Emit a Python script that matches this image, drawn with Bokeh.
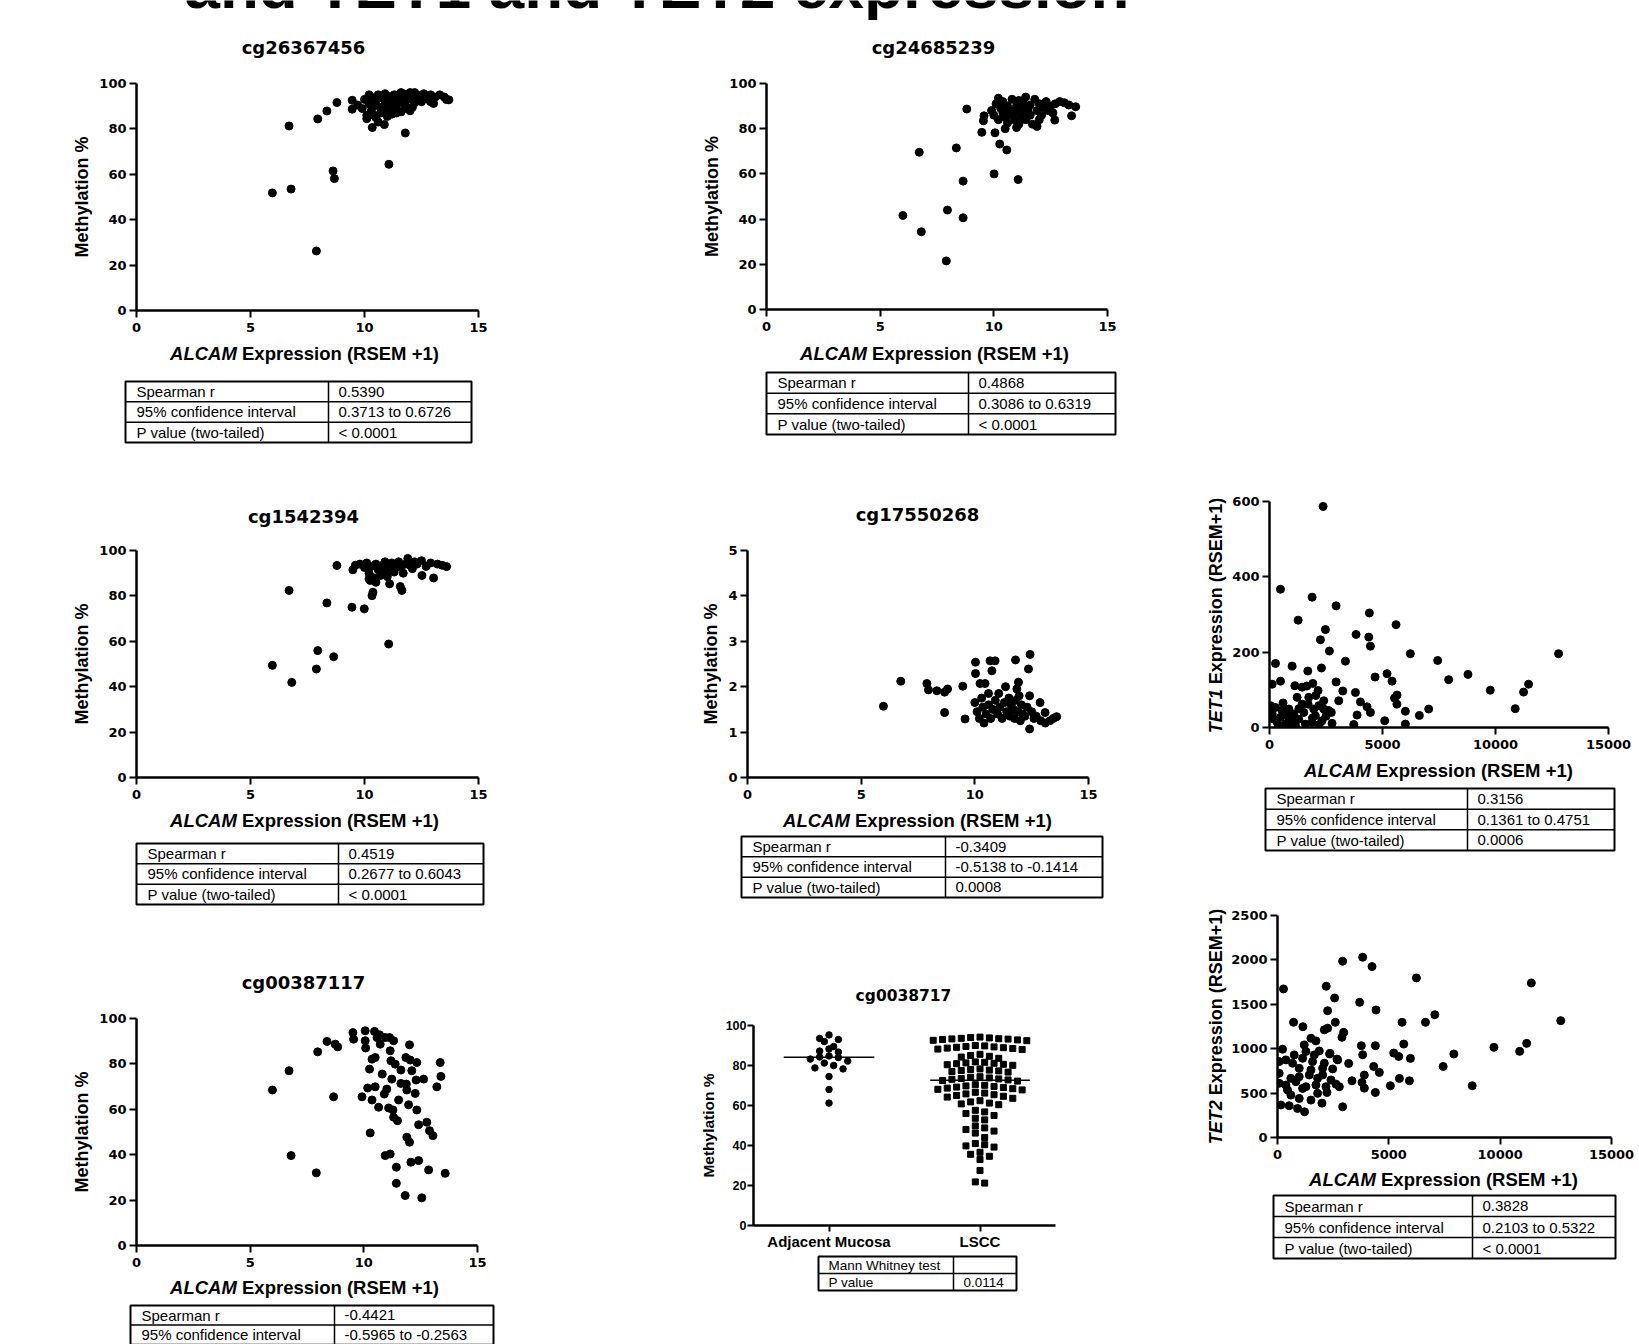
import math
import statistics
from bokeh.plotting import figure
from bokeh.layouts import column, row
from bokeh.models import Range1d, FixedTicker, Spacer, Grid
from bokeh.embed import file_html
from bokeh.resources import INLINE
from bokeh.core.properties import value

# ------------------------------------------------------------------ DATA
header_title = "and TET1 and TET2 expression"
titles = ["cg26367456", "cg24685239", "cg1542394", "cg17550268", "cg00387117", "cg0038717"]
xlabel_italic = "ALCAM"
xlabel_rest = "Expression (RSEM +1)"
ylabel_meth = "Methylation %"
tet_names = ["TET1", "TET2"]
tet_ylabel_rest = "Expression (RSEM+1)"

alcam_ticks = [0, 5, 10, 15]
meth_ticks = [0, 20, 40, 60, 80, 100]
low_meth_ticks = [0, 1, 2, 3, 4, 5]
rsem_ticks = [0, 5000, 10000, 15000]
tet1_ticks = [0, 200, 400, 600]
tet2_ticks = [0, 500, 1000, 1500, 2000, 2500]
categories = ["Adjacent Mucosa", "LSCC"]

stat_labels = ["Spearman r", "95% confidence interval", "P value (two-tailed)"]
tab_a = ["0.5390", "0.3713 to 0.6726", "< 0.0001"]
tab_b = ["0.4868", "0.3086 to 0.6319", "< 0.0001"]
tab_c = ["0.4519", "0.2677 to 0.6043", "< 0.0001"]
tab_d = ["-0.3409", "-0.5138 to -0.1414", "0.0008"]
tab_e = ["-0.4421", "-0.5965 to -0.2563"]
tab_g = ["0.3156", "0.1361 to 0.4751", "0.0006"]
tab_h = ["0.3828", "0.2103 to 0.5322", "< 0.0001"]
mw_labels = ["Mann Whitney test", "P value"]
mw_values = ["", "0.0114"]

# cg26367456
a_x = [5.96, 6.69, 6.78, 7.89, 7.95, 8.35, 8.79, 8.62, 8.68, 9.46, 9.46, 10.34, 10.87, 11.07, 11.79, 13.03, 13.60,
       9.7, 9.9, 10.0, 10.1, 10.2, 10.3, 10.3, 10.4, 10.5, 10.5, 10.6, 10.7, 10.7, 10.8, 10.9, 11.0, 11.0, 11.1,
       11.2, 11.2, 11.3, 11.3, 11.4, 11.5, 11.5, 11.6, 11.7, 11.7, 11.8, 11.9, 12.0, 12.0, 12.1, 12.2, 12.3, 12.4,
       12.5, 12.6, 12.7, 12.8, 12.9, 13.1, 13.3, 13.5, 13.7, 10.1, 10.6, 11.0, 11.8, 12.1, 10.9, 10.2, 11.6, 12.9,
       12.2, 11.4, 10.4]
a_y = [51.8, 81.3, 53.5, 26.2, 84.4, 87.9, 91.6, 61.5, 58.1, 92.6, 88.7, 80.6, 81.9, 64.4, 78.2, 91.2, 92.9,
       90.5, 89.0, 93.0, 86.0, 91.0, 94.0, 88.0, 90.0, 85.0, 92.5, 95.0, 89.5, 87.0, 93.5, 91.0, 88.5, 94.5, 92.0,
       90.0, 86.5, 95.0, 93.0, 89.0, 91.5, 94.0, 87.5, 92.5, 95.5, 90.0, 93.0, 96.0, 88.0, 94.0, 91.5, 95.0, 93.5,
       92.0, 95.5, 94.0, 93.0, 95.0, 94.0, 95.0, 94.0, 92.8, 84.5, 83.0, 85.5, 89.0, 89.5, 95.5, 95.0, 96.0, 92.0,
       96.0, 87.0, 86.0]

# cg24685239
b_x = [6.00, 6.72, 6.81, 7.91, 7.96, 8.35, 8.65, 8.65, 8.81, 9.47, 9.54, 9.57, 10.05, 10.01, 10.26, 10.57, 11.07,
       12.68, 13.42, 13.60,
       9.9, 10.0, 10.1, 10.2, 10.3, 10.4, 10.4, 10.5, 10.6, 10.6, 10.7, 10.8, 10.8, 10.9, 11.0, 11.0, 11.1, 11.1,
       11.2, 11.2, 11.3, 11.3, 11.4, 11.5, 11.6, 11.6, 11.7, 11.8, 11.9, 11.9, 12.0, 12.1, 12.2, 12.3, 12.4, 12.5,
       12.7, 12.9, 13.1, 13.3, 10.2, 11.4, 10.5, 12.0, 12.6, 11.0]
b_y = [41.6, 69.6, 34.4, 21.5, 44.0, 71.5, 56.8, 40.6, 88.7, 78.4, 83.5, 85.7, 78.2, 60.0, 73.2, 70.6, 57.5,
       83.8, 85.7, 89.7,
       88, 86, 91, 84, 89, 87, 92, 85, 90, 82.5, 88, 86, 93, 84, 90, 87.5, 82, 92.5, 85.5, 89, 87, 91, 84, 88.5,
       86, 90.5, 82, 93, 88, 81, 91, 86, 89.5, 92, 88, 90, 91, 92, 91.5, 90.5, 93.5, 94, 80, 84, 87, 80.5]

# cg1542394
c_x = [5.96, 6.69, 6.81, 7.89, 7.95, 8.35, 8.65, 8.79, 9.45, 9.99, 9.49, 10.25, 10.33, 10.37, 11.06, 11.10, 11.57,
       11.64, 12.52, 13.03, 13.60,
       9.6, 9.8, 10.0, 10.1, 10.2, 10.3, 10.4, 10.5, 10.6, 10.7, 10.8, 10.9, 11.0, 11.1, 11.2, 11.3, 11.4, 11.5,
       11.6, 11.8, 11.9, 12.0, 12.2, 12.3, 12.5, 12.7, 12.9, 13.2, 13.4, 10.5, 10.2, 11.0, 11.7, 12.1, 10.8]
c_y = [49.4, 82.4, 41.9, 47.8, 55.9, 76.9, 53.2, 93.4, 75.0, 74.3, 91.5, 86.8, 80.1, 81.6, 58.8, 85.3, 84.1,
       82.4, 89.0, 87.9, 92.9,
       93.5, 94, 92.5, 94.5, 90, 93, 88, 94, 91.5, 89, 93.5, 95, 91, 93, 94.5, 90.5, 92.5, 95, 93, 94, 96.5, 93.5,
       95, 94, 95.5, 93, 94.5, 94, 93.5, 86, 87.5, 88.5, 90, 92, 90.5]

# cg17550268
d_x = [5.98, 6.74, 7.89, 7.96, 8.33, 8.67, 8.67, 8.80, 9.47, 9.57, 10.03, 10.03, 10.23, 10.45, 10.67, 10.89, 10.75,
       11.79, 12.43, 12.36, 11.92, 12.41, 12.41, 12.87, 13.09, 13.60,
       10.0, 10.1, 10.2, 10.3, 10.35, 10.5, 10.6, 10.7, 10.8, 10.9, 11.0, 11.05, 11.1, 11.2, 11.3, 11.35, 11.4,
       11.5, 11.55, 11.6, 11.7, 11.75, 11.8, 11.85, 11.9, 12.0, 12.05, 12.1, 12.2, 12.3, 12.5, 12.6, 12.7, 12.9,
       13.1, 13.3, 13.45, 10.4, 11.95, 10.6]
d_y = [1.57, 2.12, 2.07, 1.93, 1.91, 1.88, 1.43, 1.95, 2.01, 1.29, 2.54, 2.29, 2.07, 2.07, 2.57, 2.57, 2.35,
       2.59, 2.71, 2.39, 2.10, 1.07, 1.80, 1.65, 1.43, 1.34,
       1.65, 1.45, 1.3, 1.75, 1.55, 1.4, 1.6, 1.3, 1.5, 1.7, 1.4, 1.85, 1.55, 1.3, 1.65, 2.0, 1.45, 1.75, 1.35,
       1.6, 1.5, 1.3, 1.7, 1.95, 1.45, 1.25, 1.6, 1.4, 1.35, 1.55, 1.45, 1.3, 1.35, 1.25, 1.2, 1.25, 1.3, 1.2,
       1.8, 1.85]

# cg00387117
e_x = [5.98, 6.71, 6.80, 7.91, 7.97, 8.38, 8.67, 8.74, 8.85, 9.52, 9.55, 9.92, 10.06, 10.06, 10.08, 10.25, 10.28,
       10.36, 10.17, 10.50, 10.50, 10.47, 10.69, 10.65, 10.81, 10.90, 10.94, 11.01, 11.16, 10.94, 11.13, 11.16,
       11.19, 11.23, 11.09, 11.28, 11.31, 11.38, 11.48, 11.43, 11.43, 11.53, 11.63, 11.63, 11.82, 11.85, 11.87,
       11.89, 11.89, 11.97, 12.01, 12.01, 12.07, 12.04, 12.11, 12.26, 12.30, 12.33, 12.33, 12.41, 12.41, 12.55,
       12.63, 12.77, 12.85, 12.89, 13.04, 13.21, 13.36, 13.39, 13.58, 10.72, 11.31, 10.36, 10.58]
e_y = [68.5, 77.0, 39.6, 32.0, 85.3, 89.9, 65.5, 88.7, 87.5, 93.8, 90.9, 65.5, 94.6, 90.2, 87.0, 77.7, 49.6,
       64.1, 69.4, 69.9, 82.8, 94.3, 92.8, 60.9, 75.5, 66.7, 39.6, 68.9, 40.3, 91.6, 91.6, 85.8, 81.4, 73.3,
       60.6, 59.7, 56.5, 79.9, 55.0, 34.5, 27.4, 64.1, 77.3, 71.4, 22.0, 82.8, 71.1, 68.5, 47.7, 62.0, 45.5,
       88.4, 36.7, 81.7, 77.0, 67.0, 72.9, 80.6, 59.7, 53.2, 37.4, 21.0, 73.3, 54.3, 33.3, 50.6, 48.4, 69.9,
       80.6, 74.5, 31.8, 88.7, 90.2, 82.1, 91.6]

# cg0038717 (column scatter)
adj_values = [95.3, 93.5, 93.0, 92.0, 89.5, 88.3, 87.2, 86.7, 84.8, 84.3, 84.0, 83.2, 82.2, 81.2, 80.0, 78.8,
              78.3, 74.5, 68.0, 61.2]
lscc_values = [94.2, 94.0, 93.8, 93.6, 93.4, 93.3, 93.2, 93.0, 92.8, 92.6, 92.4,
               90.0, 89.8, 89.5, 89.3, 89.1, 88.9, 88.7, 88.5, 88.2, 88.0,
               85.6, 85.0, 84.6, 84.2, 83.6,
               81.8, 81.6, 81.3, 81.1, 80.9, 80.6, 80.4, 80.1,
               78.3, 78.0, 77.7, 77.5, 77.3, 77.0, 76.7,
               74.4, 74.1, 73.8, 73.5, 73.3, 73.1, 72.8, 72.5, 72.2,
               70.4, 70.1, 69.8, 69.5, 69.2, 69.0, 68.7, 68.4, 68.1, 67.8,
               66.6, 66.2, 65.8, 65.4, 65.0, 64.6, 64.2, 63.6,
               62.4, 61.8, 61.2, 60.8, 60.4,
               57.6, 56.8, 56.0, 55.0,
               53.6, 52.8,
               49.8, 48.8, 48.0, 47.2, 46.2, 44.0,
               41.0, 40.4, 39.8, 39.2,
               36.6, 35.6, 34.6, 33.0,
               27.5, 21.8, 21.2]

# TET1 vs ALCAM
g_x = [2372, 486, 1886, 2947, 1267, 4420, 5599, 2475, 3831, 4391, 2254, 4465, 2652, 6233, 12790, 3360, 7441, 265,
       1002, 1695, 2299, 5201, 8782, 4671, 5422, 7927, 486, 118, 11464, 1916, 2947, 3242, 9769, 11243, 3802, 5643,
       10874, 7043, 6631, 6012, 5098, 6012, 4023, 4317, 4465, 3875, 3728, 5532, 5636,
       1120, 1443, 2150, 1222, 1708, 2400, 2621, 2030, 265, 560, 119, 856, 1076, 1297, 1589, 340, 706, 1885, 2326,
       2767, 2400, 2180, 3063, 1443, 194, 1002, 30, 1148, 2736, 1517, 1959, 485, 44, 1738,
       400, 800, 1300, 1900, 2500, 600, 2200, 900, 1650, 2050]
g_y = [587, 367, 346, 323, 285, 304, 273, 260, 247, 240, 233, 216, 203, 196, 196, 176, 178, 170, 163, 150, 158,
       143, 141, 134, 123, 127, 123, 115, 115, 117, 121, 97, 99, 94, 93, 86, 50, 49, 32, 43, 18, 9, 68, 55, 40, 33,
       8, 78, 62,
       111, 107, 98, 80, 62, 71, 45, 31, 53, 45, 36, 49, 36, 22, 9, 13, 9, 13, 18, 11, 49, 58, 71, 62, 22, 18, 45,
       5, 40, 40, 49, 27, 58, 80,
       5, 30, 50, 25, 30, 65, 8, 2, 110, 85]

# TET2 vs ALCAM
h_x = [270, 720, 1140, 2190, 2250, 2565, 2595, 2925, 2970, 2895, 3825, 4245, 3690, 4425, 5595, 6240, 6645, 7065,
       11400, 12720, 9720, 10875, 11190, 7920, 7440, 8745, 4395, 5670, 5220, 5970, 5445, 3765, 3825, 4320, 4575,
       3900, 3795, 3900, 4395, 5070, 5475, 5925, 3195, 3345, 2925, 2625, 2670, 2340, 1995, 2220, 1215,
       2102, 2251, 225, 1201, 1726, 1277, 1877, 2358, 375, 1127, 1576, 2102, 2703, 976, 1501, 2027, 2477, 75, 600,
       976, 1426, 1802, 2402, 2778, 75, 375, 826, 1277, 1726, 2177, 600, 976, 1502, 150, 526, 901, 75, 676, 1652,
       450, 1127, 2027, 1802, 1502, 751]
h_y = [1673, 1297, 1248, 1703, 1428, 1571, 1297, 1985, 1184, 1128, 2030, 1925, 1522, 1436, 1297, 1797, 1297, 1383,
       1740, 1316, 1015, 970, 1060, 940, 800, 583, 1034, 1052, 951, 891, 913, 1034, 932, 800, 733, 703, 620, 556,
       507, 583, 665, 639, 834, 639, 346, 601, 883, 940, 387, 507, 289,
       1212, 1231, 994, 1043, 1088, 968, 975, 948, 874, 892, 855, 836, 874, 779, 761, 779, 772, 723, 666, 685, 704,
       666, 648, 572, 610, 591, 629, 572, 591, 572, 478, 440, 421, 366, 358, 327, 855, 836, 930, 535, 553, 704,
       497, 1118, 930]

# ------------------------------------------------------------------ HELPERS
LIB = "Liberation Sans"
DJV = "DejaVu Sans"

ARIAL_BOLD = {' ': .278, '(': .333, ')': .333, '+': .584, '%': .889, 'A': .722, 'C': .722, 'E': .667, 'L': .611,
              'M': .833, 'R': .722, 'S': .667, 'T': .611, 'x': .556, 'p': .611, 'r': .389, 'e': .556, 's': .556,
              'i': .278, 'o': .611, 'n': .611}


def tw(s, fs):
    return sum(ARIAL_BOLD.get(ch, .556) for ch in s) * fs


def W(item):
    # wrap each plot in its own box so sibling plots' frames are not aligned
    return column(item, spacing=0)


def base_fig(w, h, **kw):
    return figure(width=int(w), height=int(h), output_backend="svg", toolbar_location=None, tools="",
                  title=None, **kw)


def kill_grids(p):
    for g in p.select(type=Grid):
        g.visible = False


def text_fig(x0, x1, y0, y1):
    p = base_fig(x1 - x0, y1 - y0, x_range=Range1d(x0, x1), y_range=Range1d(y1, y0),
                 x_axis_location=None, y_axis_location=None, min_border=0)
    p.outline_line_color = None
    kill_grids(p)
    return p


def put_text(p, x, y, txt, fs, font=LIB, style="normal", align="left", baseline="middle", angle=0.0):
    p.text(x=[x], y=[y], text=[txt], text_font=value(font), text_font_style=style,
           text_font_size=f"{fs}px", text_align=align, text_baseline=baseline, text_color="black", angle=angle)


def put_title(p, txt, cx, cy, fs=18):
    put_text(p, cx, cy, txt, fs, font=DJV, style="bold", align="center", baseline="middle")


def put_xlabel(p, cx, cy, fs=18.5):
    w1, ws, w2 = tw(xlabel_italic, fs), tw(" ", fs), tw(xlabel_rest, fs)
    x0 = cx - (w1 + ws + w2) / 2
    put_text(p, x0, cy, xlabel_italic, fs, style="bold italic")
    put_text(p, x0 + w1 + ws, cy, xlabel_rest, fs, style="bold")


def put_table(p, left, right, div, top, row_h, nrows, labels, vals, fs=15, pad1=11, pad2=10):
    bottom = top + row_h * nrows
    p.quad(left=[left], right=[right], top=[top], bottom=[bottom], fill_color=None,
           line_color="black", line_width=2)
    ys = [top + row_h * i for i in range(1, nrows)]
    p.segment(x0=[left] * len(ys), x1=[right] * len(ys), y0=ys, y1=ys, line_color="black", line_width=1.5)
    p.segment(x0=[div], x1=[div], y0=[top], y1=[bottom], line_color="black", line_width=1.5)
    for i, lab in enumerate(labels):
        put_text(p, left + pad1, top + row_h * (i + 0.5), lab, fs)
    for i, v in enumerate(vals):
        if v:
            put_text(p, div + pad2, top + row_h * (i + 0.5), v, fs)


def style_axis(ax, font, fs, tick_out, standoff):
    ax.axis_line_color = "black"
    ax.axis_line_width = 2.5
    ax.major_tick_line_color = "black"
    ax.major_tick_line_width = 2
    ax.major_tick_out = tick_out
    ax.major_tick_in = 0
    ax.minor_tick_line_color = None
    ax.major_label_text_font = font
    ax.major_label_text_font_style = "bold"
    ax.major_label_text_font_size = f"{fs}px"
    ax.major_label_text_color = "black"
    ax.major_label_standoff = standoff


def scat_fig(fig_box, frame_box, xr, yr, xt, yt, tick_font=DJV, tick_fs=13, tick_out=7,
             xstand=5, ystand=3, ylabel=None, ylabel_fs=18, ylabel_standoff=4):
    fx0, fy0, fx1, fy1 = fig_box
    rx0, ry0, rx1, ry1 = frame_box
    p = base_fig(fx1 - fx0, fy1 - fy0, x_range=Range1d(*xr), y_range=Range1d(*yr),
                 min_border_left=rx0 - fx0, min_border_right=fx1 - rx1,
                 min_border_top=ry0 - fy0, min_border_bottom=fy1 - ry1)
    p.outline_line_color = None
    kill_grids(p)
    p.xaxis.ticker = FixedTicker(ticks=xt)
    p.yaxis.ticker = FixedTicker(ticks=yt)
    style_axis(p.xaxis[0], tick_font, tick_fs, tick_out, xstand)
    style_axis(p.yaxis[0], tick_font, tick_fs, tick_out, ystand)
    if ylabel:
        ya = p.yaxis[0]
        ya.axis_label = ylabel
        ya.axis_label_text_font = LIB
        ya.axis_label_text_font_style = "bold"
        ya.axis_label_text_font_size = f"{ylabel_fs}px"
        ya.axis_label_text_color = "black"
        ya.axis_label_standoff = ylabel_standoff
    return p


def swarm(vals, center, binw, dx):
    order = sorted(range(len(vals)), key=lambda i: -vals[i])
    rows, cur, start = [], [], None
    for i in order:
        if start is None or vals[i] < start - binw:
            if cur:
                rows.append(cur)
            cur, start = [i], vals[i]
        else:
            cur.append(i)
    rows.append(cur)
    xs = [0.0] * len(vals)
    for r in rows:
        n = len(r)
        slots = sorted(range(n), key=lambda k: (abs(k - (n - 1) / 2), k))
        for idx, i in zip(slots, r):
            xs[i] = center + (idx - (n - 1) / 2) * dx
    return xs


def rot_label(box, cx, cy, italic, rest, fs=18):
    x0, y0, x1, y1 = box
    p = text_fig(x0, x1, y0, y1)
    w1, ws, w2 = tw(italic, fs), tw(" ", fs), tw(rest, fs)
    ys = cy + (w1 + ws + w2) / 2
    put_text(p, cx, ys, italic, fs, style="bold italic", angle=math.pi / 2)
    put_text(p, cx, ys - w1 - ws, rest, fs, style="bold", angle=math.pi / 2)
    return p


PAGE_W, PAGE_H, TOP = 1639, 1344, 20

# ------------------------------------------------------------------ HEADER
# only the lower part of the (second) title line is visible at the top edge
HDR_FS = 63.7
hdr = text_fig(0, PAGE_W, 0, TOP)
put_text(hdr, 184, 6.7 - 0.3465 * HDR_FS, header_title, HDR_FS, style="bold", baseline="middle")

# ------------------------------------------------------------------ COLUMN 1
C1X0, C1X1 = 0, 560
t11 = text_fig(C1X0, C1X1, TOP, 73)
put_title(t11, titles[0], 303, 46.8)

pa = scat_fig((C1X0, 73, C1X1, 340), (136, 83, 478, 310), (0, 15), (0, 100), alcam_ticks, meth_ticks,
              ylabel=ylabel_meth)
pa.scatter(a_x, a_y, size=8, color="black")

t12 = text_fig(C1X0, C1X1, 340, 540)
put_xlabel(t12, 304, 352.7)
put_table(t12, 125, 471, 328, 381, 20.33, 3, stat_labels, tab_a)
put_title(t12, titles[2], 303, 515.5)

pc = scat_fig((C1X0, 540, C1X1, 807), (136, 550, 478, 777), (0, 15), (0, 100), alcam_ticks, meth_ticks,
              ylabel=ylabel_meth)
pc.scatter(c_x, c_y, size=8, color="black")

t13 = text_fig(C1X0, C1X1, 807, 1008)
put_xlabel(t13, 304, 820.3)
put_table(t13, 136, 483, 338, 843, 20.33, 3, stat_labels, tab_c)
put_title(t13, titles[4], 303, 981.7)

pe = scat_fig((C1X0, 1008, C1X1, 1275), (136, 1018, 477, 1245), (0, 15), (0, 100), alcam_ticks, meth_ticks,
              ylabel=ylabel_meth)
pe.scatter(e_x, e_y, size=8, color="black")

t14 = text_fig(C1X0, C1X1, 1275, PAGE_H)
put_xlabel(t14, 304, 1287)
put_table(t14, 130, 493, 334, 1305, 19.5, 3, stat_labels[:2], tab_e)

col1 = column(W(t11), W(pa), W(t12), W(pc), W(t13), W(pe), W(t14), spacing=0)

# ------------------------------------------------------------------ COLUMN 2
C2X0, C2X1 = 560, 1150
t21 = text_fig(C2X0, C2X1, TOP, 73)
put_title(t21, titles[1], 933, 46.8)

pb = scat_fig((C2X0, 73, C2X1, 339), (766, 83, 1107, 309), (0, 15), (0, 100), alcam_ticks, meth_ticks,
              ylabel=ylabel_meth)
pb.scatter(b_x, b_y, size=8, color="black")

t22 = text_fig(C2X0, C2X1, 339, 540)
put_xlabel(t22, 934, 352.7)
put_table(t22, 766, 1115, 968, 372, 20.67, 3, stat_labels, tab_b)
put_title(t22, titles[3], 917, 513.5)

pd_ = scat_fig((C2X0, 540, C2X1, 807), (747, 550, 1088, 777), (0, 15), (0, 5), alcam_ticks, low_meth_ticks,
               ylabel=ylabel_meth)
pd_.scatter(d_x, d_y, size=8, color="black")

t23 = text_fig(C2X0, C2X1, 807, 1015)
put_xlabel(t23, 917, 820.3)
put_table(t23, 741, 1102, 945, 836, 20.33, 3, stat_labels, tab_d)
put_title(t23, titles[5], 903, 995.5, fs=15.5)

pf = scat_fig((C2X0, 1015, C2X1, 1252), (753, 1025, 1055, 1225), (0, 2), (0, 100), [0.5, 1.5], meth_ticks,
              tick_font=LIB, tick_fs=12.5, tick_out=6, xstand=1, ystand=1,
              ylabel=ylabel_meth, ylabel_fs=15.5, ylabel_standoff=6)
pf.xaxis.major_label_overrides = {0.5: categories[0], 1.5: categories[1]}
pf.xaxis.major_label_text_font_size = "15px"
adj_x = swarm(adj_values, 0.5, 3.0, 0.062)
lscc_x = swarm(lscc_values, 1.5, 3.0, 0.062)
pf.scatter(adj_x, adj_values, size=6.5, color="black", marker="circle")
pf.scatter(lscc_x, lscc_values, size=6, color="black", marker="square")
med_adj = statistics.median(adj_values)
med_lscc = statistics.median(lscc_values)
pf.segment(x0=[0.5 - 0.3, 1.5 - 0.33], x1=[0.5 + 0.3, 1.5 + 0.33], y0=[med_adj, med_lscc],
           y1=[med_adj, med_lscc], line_color="black", line_width=1.5)

t24 = text_fig(C2X0, C2X1, 1252, PAGE_H)
put_table(t24, 818, 1016, 953, 1256, 17, 2, mw_labels, mw_values, fs=13.5, pad1=10, pad2=10)

col2 = column(W(t21), W(pb), W(t22), W(pd_), W(t23), W(pf), W(t24), spacing=0)

# ------------------------------------------------------------------ COLUMN 3
C3X0, C3X1, C3Y = 1150, PAGE_W, 1228
sp3 = Spacer(width=C3X1 - C3X0, height=491 - TOP)

lg = rot_label((C3X0, 491, C3Y, 757), 1215, 615, tet_names[0], tet_ylabel_rest)
pg = scat_fig((C3Y, 491, C3X1, 757), (1269, 501, 1608, 727), (0, 15000), (0, 600), rsem_ticks, tet1_ticks,
              tick_fs=13)
pg.scatter(g_x, g_y, size=8, color="black")

t32 = text_fig(C3X0, C3X1, 757, 905)
put_xlabel(t32, 1438, 769.7)
put_table(t32, 1265, 1614, 1467, 788, 20.67, 3, stat_labels, tab_g)

lh = rot_label((C3X0, 905, C3Y, 1167), 1215, 1026, tet_names[1], tet_ylabel_rest)
ph = scat_fig((C3Y, 905, C3X1, 1167), (1277, 915, 1611, 1137), (0, 15000), (0, 2500), rsem_ticks, tet2_ticks,
              tick_fs=13)
ph.scatter(h_x, h_y, size=8, color="black")

t34 = text_fig(C3X0, C3X1, 1167, PAGE_H)
put_xlabel(t34, 1443, 1179.3)
put_table(t34, 1273, 1615, 1472, 1195, 21, 3, stat_labels, tab_h)

col3 = column(sp3, row(W(lg), W(pg), spacing=0), W(t32), row(W(lh), W(ph), spacing=0), W(t34), spacing=0)

layout = column(W(hdr), row(col1, col2, col3, spacing=0), spacing=0)

open("out.html", "w").write(file_html(layout, INLINE))
